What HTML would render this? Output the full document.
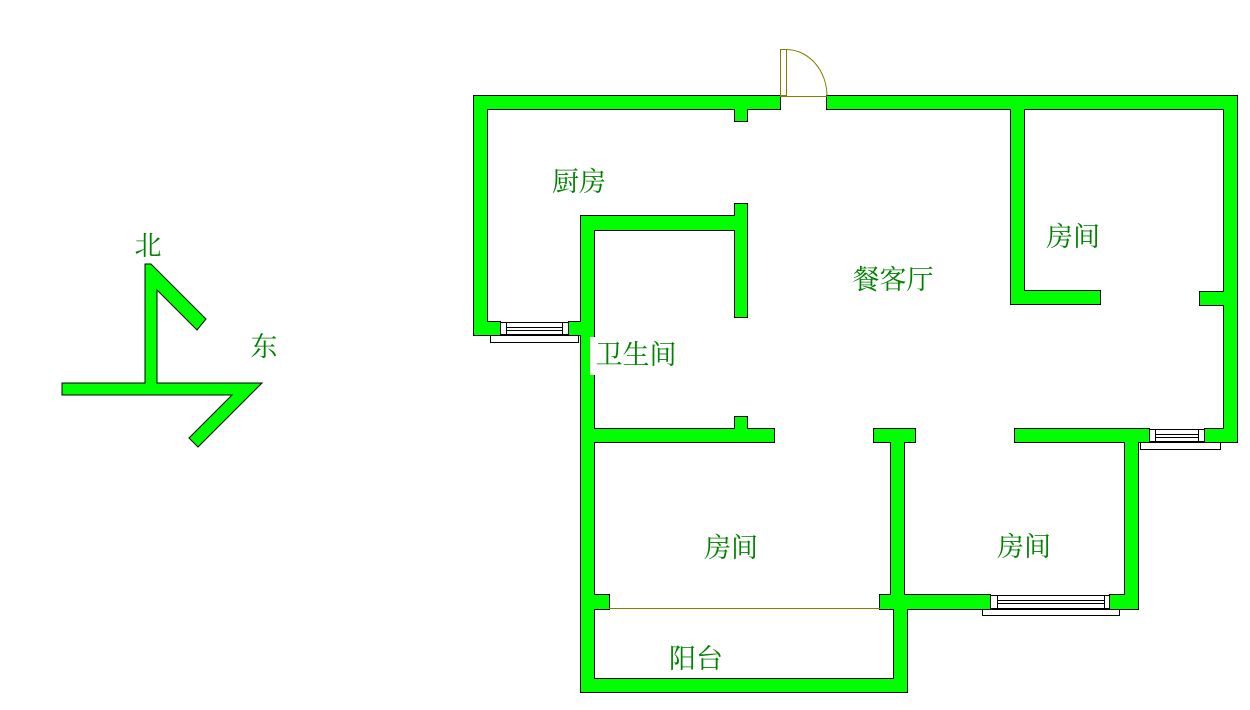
<!DOCTYPE html>
<html><head><meta charset="utf-8"><style>
html,body{margin:0;padding:0;background:#fff;}
svg{display:block}
text{font-family:"Liberation Serif","Noto Serif CJK SC",serif;font-size:27px;fill:#008000;text-anchor:middle;dominant-baseline:central}
</style></head><body>
<svg width="1250" height="710" viewBox="0 0 1250 710" xmlns="http://www.w3.org/2000/svg">
<defs>
<g id="walls">
<rect x="474" y="96" width="306" height="13"/>
<rect x="827" y="96" width="410" height="13"/>
<rect x="474" y="96" width="13" height="239"/>
<rect x="735" y="109" width="12" height="12"/>
<rect x="474" y="322" width="26" height="13"/>
<rect x="569" y="322" width="25" height="13"/>
<rect x="581" y="216" width="13" height="476"/>
<rect x="581" y="216" width="166" height="14"/>
<rect x="735" y="204" width="12" height="113"/>
<rect x="1011" y="96" width="13" height="208"/>
<rect x="1011" y="291" width="89" height="13"/>
<rect x="1224" y="96" width="13" height="346"/>
<rect x="1200" y="292" width="24" height="13"/>
<rect x="581" y="429" width="193" height="13"/>
<rect x="735" y="417" width="12" height="12"/>
<rect x="874" y="429" width="41" height="13"/>
<rect x="1015" y="429" width="134" height="13"/>
<rect x="1205" y="429" width="32" height="13"/>
<rect x="891" y="429" width="13" height="180"/>
<rect x="1125" y="429" width="13" height="180"/>
<rect x="880" y="595" width="110" height="14"/>
<rect x="1110" y="595" width="28" height="14"/>
<rect x="581" y="595" width="28" height="14"/>
<rect x="894" y="595" width="13" height="97"/>
<rect x="581" y="679" width="326" height="13"/>
</g>
</defs>
<use href="#walls" fill="#000" stroke="#000" stroke-width="2"/>
<use href="#walls" fill="#00ff00"/>
<g fill="none" stroke="#808000" stroke-width="1">
<rect x="780.5" y="49.5" width="6" height="46"/>
<line x1="780" y1="96.5" x2="827" y2="96.5"/>
<path d="M786 49.5 A41 46.5 0 0 1 827 96"/>
</g>
<line x1="609" y1="608.5" x2="880" y2="608.5" stroke="#808000" stroke-width="1"/>
<g fill="#fff" stroke="#000" stroke-width="1">
<rect x="500.5" y="322.5" width="68" height="12"/>
<line x1="506" y1="327.5" x2="563" y2="327.5"/>
<line x1="506" y1="330.5" x2="563" y2="330.5"/>
<line x1="506.5" y1="322" x2="506.5" y2="335"/>
<line x1="562.5" y1="322" x2="562.5" y2="335"/>
<rect x="490.5" y="335.5" width="88" height="7"/>
<rect x="1149.5" y="429.5" width="55" height="12"/>
<line x1="1155" y1="434.5" x2="1199" y2="434.5"/>
<line x1="1155" y1="437.5" x2="1199" y2="437.5"/>
<line x1="1155.5" y1="429" x2="1155.5" y2="442"/>
<line x1="1198.5" y1="429" x2="1198.5" y2="442"/>
<rect x="1140.5" y="442.5" width="80" height="7"/>
<rect x="990.5" y="595.5" width="119" height="13"/>
<line x1="997" y1="600.5" x2="1104" y2="600.5"/>
<line x1="997" y1="603.5" x2="1104" y2="603.5"/>
<line x1="997.5" y1="595" x2="997.5" y2="609"/>
<line x1="1104.5" y1="595" x2="1104.5" y2="609"/>
<rect x="982.5" y="609.5" width="137" height="6"/>
</g>
<polygon points="145,264 151,264 206,319 197,330 157,290 157,383 262,383 198,447 189,438 232,395 62,395 62,383 145,383" fill="#00ff00" stroke="#000" stroke-width="1"/>
<text x="148" y="246" font-size="25">北</text>
<text x="264" y="347" font-size="25">东</text>
<text x="579" y="182">厨房</text>
<rect x="590" y="337" width="90" height="38" fill="#fff"/>
<text x="636" y="355">卫生间</text>
<text x="893" y="280">餐客厅</text>
<text x="1073" y="237">房间</text>
<text x="731" y="548">房间</text>
<text x="1024" y="547">房间</text>
<text x="696" y="659">阳台</text>
</svg>
</body></html>
